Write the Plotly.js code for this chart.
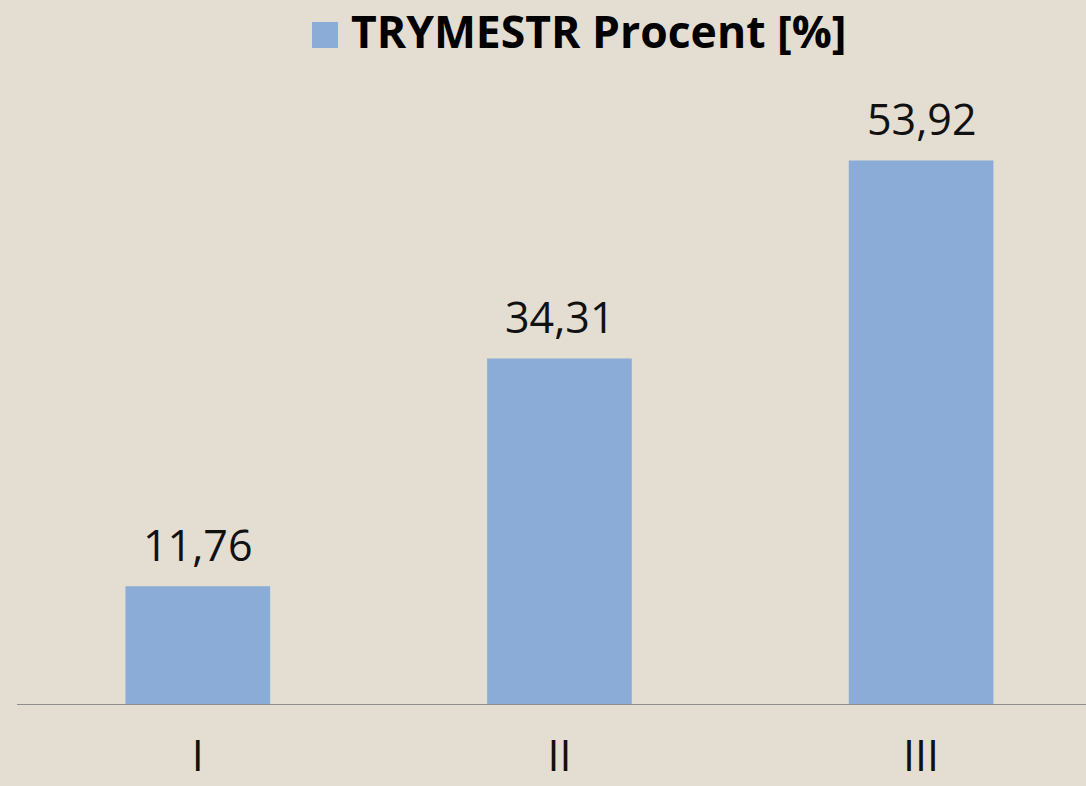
<!DOCTYPE html>
<html>
<head>
<meta charset="utf-8">
<script src="https://cdn.plot.ly/plotly-3.0.1.min.js"></script>
<style>html,body{margin:0;padding:0;background:#E3DDD2;}#chart{width:1086px;height:786px;}</style>
</head>
<body>
<div id="chart"></div>
<script>
const categories = ["I", "II", "III"];
const values = [11.76, 34.31, 53.92];
const seriesName = "TRYMESTR Procent [%]";

const barColor = "#8AACD6";
const bg = "#E3DDD2";

const annotations = categories.map((c, i) => ({
  x: c, y: values[i], xref: "x", yref: "y",
  text: values[i].toFixed(2).replace(".", ","),
  showarrow: false, yanchor: "bottom", yshift: 10,
  font: {family: "Open Sans", size: 43, color: "#111"}
}));
annotations.push({
  xref: "paper", yref: "paper", x: (349 - 17) / 1069, y: 1, yshift: 65,
  xanchor: "left", yanchor: "middle",
  text: "<b>" + seriesName + "</b>", showarrow: false,
  font: {family: "Open Sans", size: 44.5, color: "#000"}
});

const layout = {
  width: 1086, height: 786,
  paper_bgcolor: bg, plot_bgcolor: bg,
  margin: {l: 17, r: 0, t: 95, b: 81},
  separators: ",.",
  showlegend: false,
  bargap: 0.6,
  xaxis: {
    type: "category", range: [-0.5, 2.456],
    showgrid: false, zeroline: false,
    showline: false, ticks: "",
    tickfont: {family: "Open Sans", size: 43, color: "#111"},
    ticklabelstandoff: 22
  },
  yaxis: {
    range: [0, 60.4], visible: false, fixedrange: true
  },
  shapes: [
    {type: "line", xref: "paper", yref: "y", x0: 0, x1: 1, y0: 0, y1: 0,
     line: {color: "#8E8E8E", width: 2}},
    {type: "rect", xref: "paper", yref: "paper",
     x0: (312 - 17) / 1069, x1: (338 - 17) / 1069,
     y0: (705 - 48) / 610, y1: (705 - 22) / 610,
     fillcolor: barColor, line: {width: 0}}
  ],
  annotations: annotations
};

Plotly.newPlot("chart", [{
  type: "bar", x: categories, y: values, name: seriesName,
  marker: {color: barColor}, hoverinfo: "none"
}], layout, {staticPlot: true});
</script>
</body>
</html>
